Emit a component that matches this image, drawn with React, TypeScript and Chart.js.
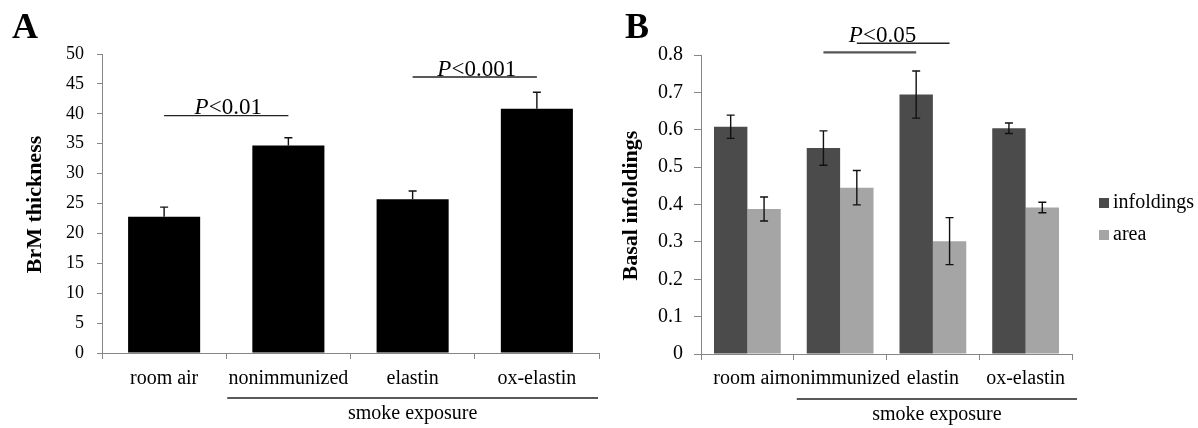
import React, { useEffect, useRef } from "react";
import { Chart, registerables } from "chart.js";

Chart.register(...registerables);

const SERIF = "'Liberation Serif', 'Times New Roman', Times, serif";
const AXIS_GREY = "#868686";

// ---------- Panel A data ----------
const categoriesA = ["room air", "nonimmunized", "elastin", "ox-elastin"];
const brmThickness = [22.8, 34.7, 25.7, 40.85];
const brmThicknessErr = [1.6, 1.3, 1.4, 2.75];
const yMinA = 0;
const yMaxA = 50;
const yStepA = 5;
const sigPairsA = [
  [0, 1],
  [2, 3],
];
const sigLevelsA = [39.7, 46.15];
const sigTextA = ["<0.01", "<0.001"];

// ---------- Panel B data ----------
const categoriesB = ["room air", "nonimmunized", "elastin", "ox-elastin"];
const seriesNamesB = ["infoldings", "area"];
const infoldings = [0.608, 0.551, 0.694, 0.604];
const infoldingsErr = [0.031, 0.046, 0.063, 0.014];
const area = [0.388, 0.445, 0.302, 0.392];
const areaErr = [0.032, 0.046, 0.063, 0.014];
const yMinB = 0;
const yMaxB = 0.8;
const yStepB = 0.1;
const sigPairB = [1, 2];
const sigLevelsB = [0.807, 0.8316]; // infoldings line, area line
const sigTextLevelB = 0.834;
const sigTextB = "<0.05";

const smokeLabel = "smoke exposure";
const smokeFromCategory = 1;

const P_SIZE = 23;

function drawP(ctx: CanvasRenderingContext2D, cx: number, baseline: number, rest: string, size: number) {
  ctx.save();
  ctx.fillStyle = "#000";
  ctx.textAlign = "left";
  ctx.textBaseline = "alphabetic";
  ctx.font = `italic ${size}px ${SERIF}`;
  const wP = ctx.measureText("P").width;
  ctx.font = `${size}px ${SERIF}`;
  const wR = ctx.measureText(rest).width;
  const start = cx - (wP + wR) / 2;
  ctx.font = `italic ${size}px ${SERIF}`;
  ctx.fillText("P", start, baseline);
  ctx.font = `${size}px ${SERIF}`;
  ctx.fillText(rest, start + wP, baseline);
  ctx.restore();
}

function drawSmoke(chart: any, extendRight: number, extendLeft: number) {
  const ctx = chart.ctx as CanvasRenderingContext2D;
  const xs = chart.scales.x;
  const p0 = xs.getPixelForValue(0);
  const p1 = xs.getPixelForValue(1);
  const half = (p1 - p0) / 2;
  const left = xs.getPixelForValue(smokeFromCategory) - half + extendLeft;
  const right = chart.chartArea.right + extendRight;
  const y = chart.chartArea.bottom + 45;
  ctx.save();
  ctx.strokeStyle = "#222";
  ctx.lineWidth = 1.5;
  ctx.beginPath();
  ctx.moveTo(left, y);
  ctx.lineTo(right, y);
  ctx.stroke();
  ctx.fillStyle = "#000";
  ctx.font = `20px ${SERIF}`;
  ctx.textAlign = "center";
  ctx.textBaseline = "alphabetic";
  ctx.fillText(smokeLabel, (left + right) / 2, chart.chartArea.bottom + 66);
  ctx.restore();
}

function drawYTitle(chart: any, text: string, cx: number) {
  const ctx = chart.ctx as CanvasRenderingContext2D;
  const ca = chart.chartArea;
  ctx.save();
  ctx.translate(cx, (ca.top + ca.bottom) / 2 + 1);
  ctx.rotate(-Math.PI / 2);
  ctx.fillStyle = "#000";
  ctx.font = `bold 22px ${SERIF}`;
  ctx.textAlign = "center";
  ctx.textBaseline = "middle";
  ctx.fillText(text, 0, 0);
  ctx.restore();
}

function drawLetter(chart: any, letter: string, x: number) {
  const ctx = chart.ctx as CanvasRenderingContext2D;
  ctx.save();
  ctx.fillStyle = "#000";
  ctx.font = `bold 36px ${SERIF}`;
  ctx.textAlign = "left";
  ctx.textBaseline = "alphabetic";
  ctx.fillText(letter, x, 38);
  ctx.restore();
}

function drawErrorBars(chart: any, dsIndex: number, values: number[], errs: number[], plusOnly: boolean) {
  const ctx = chart.ctx as CanvasRenderingContext2D;
  const ys = chart.scales.y;
  const meta = chart.getDatasetMeta(dsIndex);
  ctx.save();
  ctx.strokeStyle = "#111";
  ctx.lineWidth = 1.4;
  meta.data.forEach((bar: any, j: number) => {
    const x = bar.x;
    const top = ys.getPixelForValue(values[j] + errs[j]);
    const bot = plusOnly ? ys.getPixelForValue(values[j]) : ys.getPixelForValue(values[j] - errs[j]);
    ctx.beginPath();
    ctx.moveTo(x, bot);
    ctx.lineTo(x, top);
    ctx.moveTo(x - 4, top);
    ctx.lineTo(x + 4, top);
    if (!plusOnly) {
      ctx.moveTo(x - 4, bot);
      ctx.lineTo(x + 4, bot);
    }
    ctx.stroke();
  });
  ctx.restore();
}

const overlayA = {
  id: "overlayA",
  afterDatasetsDraw(chart: any) {
    drawErrorBars(chart, 0, brmThickness, brmThicknessErr, true);
  },
  afterDraw(chart: any) {
    const ctx = chart.ctx as CanvasRenderingContext2D;
    const ys = chart.scales.y;
    const meta = chart.getDatasetMeta(0);
    drawLetter(chart, "A", 12);
    drawYTitle(chart, "BrM thickness", 35);
    sigPairsA.forEach((pair, k) => {
      const x0 = meta.data[pair[0]].x;
      const x1 = meta.data[pair[1]].x;
      const y = ys.getPixelForValue(sigLevelsA[k]);
      ctx.save();
      ctx.strokeStyle = "#222";
      ctx.lineWidth = 1.4;
      ctx.beginPath();
      ctx.moveTo(x0, y);
      ctx.lineTo(x1, y);
      ctx.stroke();
      ctx.restore();
      drawP(ctx, (x0 + x1) / 2 + 2, y - 1.5, sigTextA[k], P_SIZE);
    });
    drawSmoke(chart, -1, 1);
  },
};

const overlayB = {
  id: "overlayB",
  afterDatasetsDraw(chart: any) {
    drawErrorBars(chart, 0, infoldings, infoldingsErr, false);
    drawErrorBars(chart, 1, area, areaErr, false);
  },
  afterDraw(chart: any) {
    const ctx = chart.ctx as CanvasRenderingContext2D;
    const ys = chart.scales.y;
    const ca = chart.chartArea;
    drawLetter(chart, "B", 25);
    drawYTitle(chart, "Basal infoldings", 31);
    // significance lines
    const m0 = chart.getDatasetMeta(0);
    const m1 = chart.getDatasetMeta(1);
    const yInf = ys.getPixelForValue(sigLevelsB[0]);
    const yArea = ys.getPixelForValue(sigLevelsB[1]);
    ctx.save();
    ctx.strokeStyle = "#555";
    ctx.lineWidth = 2.2;
    ctx.beginPath();
    ctx.moveTo(m0.data[sigPairB[0]].x, yInf);
    ctx.lineTo(m0.data[sigPairB[1]].x, yInf);
    ctx.stroke();
    ctx.strokeStyle = "#222";
    ctx.lineWidth = 1.4;
    ctx.beginPath();
    ctx.moveTo(m1.data[sigPairB[0]].x, yArea);
    ctx.lineTo(m1.data[sigPairB[1]].x, yArea);
    ctx.stroke();
    ctx.restore();
    const cx = (m1.data[sigPairB[0]].x + m0.data[sigPairB[1]].x) / 2 - 4;
    drawP(ctx, cx, ys.getPixelForValue(sigTextLevelB), sigTextB, P_SIZE);
    // legend
    const ds = chart.data.datasets;
    ctx.save();
    ds.forEach((d: any, i: number) => {
      const yTop = ca.top + 143 + i * 32;
      ctx.fillStyle = d.backgroundColor;
      ctx.fillRect(ca.right + 27, yTop, 10, 10);
      ctx.fillStyle = "#000";
      ctx.font = `20px ${SERIF}`;
      ctx.textAlign = "left";
      ctx.textBaseline = "middle";
      ctx.fillText(d.label, ca.right + 41, yTop + 5);
    });
    ctx.restore();
    drawSmoke(chart, 5, 3);
  },
};

export default function App() {
  const refA = useRef<HTMLCanvasElement>(null);
  const refB = useRef<HTMLCanvasElement>(null);

  useEffect(() => {
    const common = {
      responsive: false,
      animation: false as const,
      devicePixelRatio: 1,
      events: [] as any[],
    };
    const chartA = new Chart(refA.current as HTMLCanvasElement, {
      type: "bar",
      data: {
        labels: categoriesA,
        datasets: [
          {
            label: "BrM thickness",
            data: brmThickness,
            backgroundColor: "#000000",
            borderWidth: 0,
            barPercentage: 0.58,
            categoryPercentage: 1,
          },
        ],
      },
      options: {
        ...common,
        layout: { padding: { top: 54, right: 1, left: 0, bottom: 0 } },
        plugins: { legend: { display: false }, tooltip: { enabled: false } },
        scales: {
          x: {
            afterFit: (s: any) => {
              s.height = 75;
            },
            grid: { drawOnChartArea: false, drawTicks: true, tickLength: 6, color: AXIS_GREY, offset: true },
            border: { display: true, color: AXIS_GREY, width: 1 },
            ticks: {
              color: "#000",
              font: { family: SERIF, size: 20 },
              padding: 8,
              maxRotation: 0,
              minRotation: 0,
              autoSkip: false,
            },
          },
          y: {
            min: yMinA,
            max: yMaxA,
            afterFit: (s: any) => {
              s.width = 102;
            },
            grid: { drawOnChartArea: false, drawTicks: true, tickLength: 5, color: AXIS_GREY },
            border: { display: true, color: AXIS_GREY, width: 1 },
            ticks: { stepSize: yStepA, color: "#000", font: { family: SERIF, size: 18 }, padding: 13 },
          },
        },
      },
      plugins: [overlayA],
    } as any);

    const chartB = new Chart(refB.current as HTMLCanvasElement, {
      type: "bar",
      data: {
        labels: categoriesB,
        datasets: [
          {
            label: seriesNamesB[0],
            data: infoldings,
            backgroundColor: "#4b4b4b",
            borderWidth: 0,
            barPercentage: 1,
            categoryPercentage: 0.72,
          },
          {
            label: seriesNamesB[1],
            data: area,
            backgroundColor: "#a5a5a5",
            borderWidth: 0,
            barPercentage: 1,
            categoryPercentage: 0.72,
          },
        ],
      },
      options: {
        ...common,
        layout: { padding: { top: 55, right: 126, left: 0, bottom: 0 } },
        plugins: { legend: { display: false }, tooltip: { enabled: false } },
        scales: {
          x: {
            afterFit: (s: any) => {
              s.height = 74;
            },
            grid: { drawOnChartArea: false, drawTicks: true, tickLength: 6, color: AXIS_GREY, offset: true },
            border: { display: true, color: AXIS_GREY, width: 1 },
            ticks: {
              color: "#000",
              font: { family: SERIF, size: 20 },
              padding: 7,
              maxRotation: 0,
              minRotation: 0,
              autoSkip: false,
            },
          },
          y: {
            min: yMinB,
            max: yMaxB,
            afterFit: (s: any) => {
              s.width = 101;
            },
            grid: { drawOnChartArea: false, drawTicks: true, tickLength: 7, color: AXIS_GREY },
            border: { display: true, color: AXIS_GREY, width: 1 },
            ticks: { stepSize: yStepB, color: "#000", font: { family: SERIF, size: 20 }, padding: 11 },
          },
        },
      },
      plugins: [overlayB],
    } as any);

    return () => {
      chartA.destroy();
      chartB.destroy();
    };
  }, []);

  return (
    <div
      style={{
        position: "absolute",
        left: 0,
        top: 0,
        width: 1198,
        height: 428,
        background: "#ffffff",
        overflow: "hidden",
      }}
    >
      <canvas
        ref={refA}
        width={600}
        height={428}
        style={{ position: "absolute", left: 0, top: 0, width: 600, height: 428 }}
      />
      <canvas
        ref={refB}
        width={598}
        height={428}
        style={{ position: "absolute", left: 600, top: 0, width: 598, height: 428 }}
      />
    </div>
  );
}
